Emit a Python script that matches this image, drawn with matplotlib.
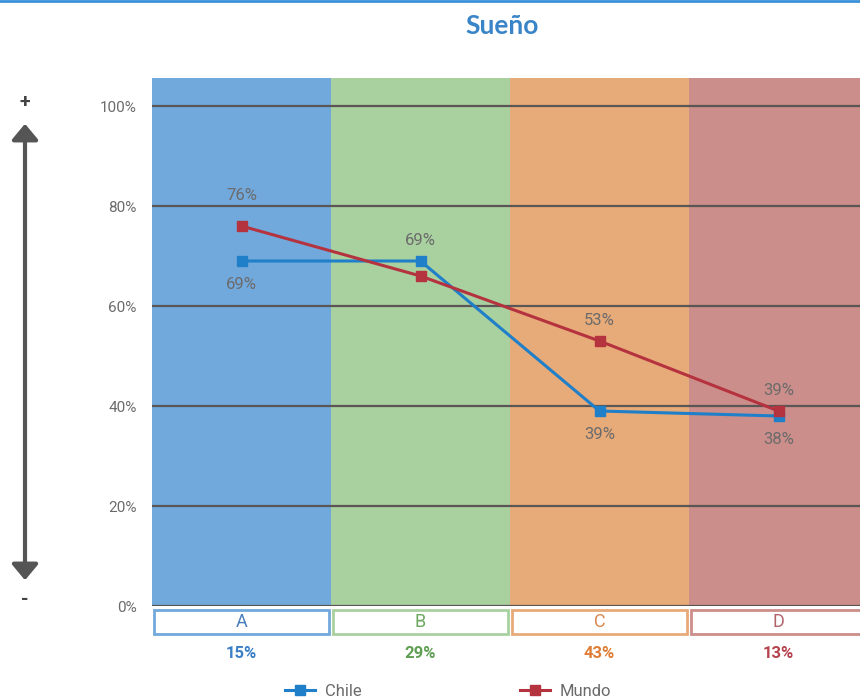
import matplotlib
matplotlib.use("Agg")
import matplotlib.pyplot as plt
from matplotlib.lines import Line2D
from matplotlib.patches import Rectangle, FancyArrowPatch
from matplotlib.transforms import blended_transform_factory

plt.rcParams['font.family'] = ['Roboto', 'DejaVu Sans']

# Data
categories = ["A", "B", "C", "D"]
shares = ["15%", "29%", "43%", "13%"]
chile = [69, 69, 39, 38]
mundo = [76, 66, 53, 39]
chile_labels = ["69%", "69%", "39%", "38%"]
mundo_labels = ["76%", None, "53%", "39%"]
yticks = [0, 20, 40, 60, 80, 100]

# Styling
band_colors = ["#72a9dc", "#a9d09f", "#e7aa79", "#cc8e8a"]
letter_colors = ["#4a80bd", "#6aa65c", "#d9894e", "#b0636b"]
share_colors = ["#3b7fc6", "#5e9f52", "#e07d35", "#b5434e"]
chile_color = "#1f7fc9"
mundo_color = "#b5323f"
grid_color = "#5b5656"
text_gray = "#6b6b6b"

W, H = 860, 700
fig = plt.figure(figsize=(W / 100, H / 100), dpi=100)

# Plot area in pixels
left_px, top_px, bottom_px = 152, 78, 606
band_w = 179
ax = fig.add_axes([left_px / W, 1 - bottom_px / H, 4 * band_w / W, (bottom_px - top_px) / H])
ymax = (bottom_px - top_px) / 5.0
ax.set_xlim(0, 4)
ax.set_ylim(0, ymax)

for i, c in enumerate(band_colors):
    ax.axvspan(i, i + 1, color=c, lw=0, zorder=0)

for t in yticks:
    ax.axhline(t, color=grid_color, lw=1.6, zorder=1)

for s in ax.spines.values():
    s.set_visible(False)
ax.set_xticks([])
ax.set_yticks(yticks)
ax.set_yticklabels([f"{t}%" for t in yticks], color=text_gray, fontsize=11)
ax.tick_params(axis='y', length=0, pad=11)

x = [i + 0.5 for i in range(len(categories))]
ax.plot(x, chile, color=chile_color, lw=2.2, marker='s', ms=7, zorder=3)
ax.plot(x, mundo, color=mundo_color, lw=2.2, marker='s', ms=7, zorder=3)

# Value labels: vertical offset in points per point (positive = above)
chile_offsets = [-17, 15, -17, -17]
mundo_offsets = [22, 0, 15, 15]
for i in range(len(categories)):
    for vals, labels, offs in ((chile, chile_labels, chile_offsets),
                               (mundo, mundo_labels, mundo_offsets)):
        if labels[i] is None:
            continue
        ax.annotate(labels[i], (x[i], vals[i]), xytext=(0, offs[i]), textcoords='offset points',
                    ha='center', va='center', color=text_gray, fontsize=12, zorder=4)

# Category boxes and shares under the plot
tr = blended_transform_factory(ax.transData, fig.transFigure)
box_top = 1 - 610 / H
box_bot = 1 - 634 / H
for i, cat in enumerate(categories):
    r = Rectangle((i + 0.012, box_bot), 0.976, box_top - box_bot, transform=tr,
                  facecolor="white", edgecolor=band_colors[i], lw=2, clip_on=False, zorder=2)
    ax.add_patch(r)
    ax.text(i + 0.5, (box_top + box_bot) / 2, cat, transform=tr, ha='center', va='center',
            color=letter_colors[i], fontsize=13, clip_on=False, zorder=5)
    ax.text(i + 0.5, 1 - 653 / H, shares[i], transform=tr, ha='center', va='center',
            color=share_colors[i], fontsize=12, fontweight='bold', clip_on=False)

# Title and top rule
fig.add_artist(Line2D([0, 1], [1 - 1 / H, 1 - 1 / H], transform=fig.transFigure,
                      color="#3a8fd9", lw=2))
fig.text(502 / W, 1 - 26 / H, "Sueño", ha='center', va='center', color="#3a85c8",
         fontsize=19, fontweight='bold', family=['Lato', 'DejaVu Sans'])

# Double-headed scale arrow with +/- marks
arrow = FancyArrowPatch((25 / W, 1 - 583 / H), (25 / W, 1 - 121 / H), transform=fig.transFigure,
                        arrowstyle='<|-|>,head_length=6,head_width=5', color="#555555",
                        lw=3, mutation_scale=1.6)
fig.add_artist(arrow)
fig.text(25 / W, 1 - 102 / H, "+", ha='center', va='center', color="#444444", fontsize=14,
         fontweight='bold')
fig.text(25 / W, 1 - 600 / H, "-", ha='center', va='center', color="#444444", fontsize=14,
         fontweight='bold')

# Legend
handles = [Line2D([], [], color=chile_color, lw=2.2, marker='s', ms=7),
           Line2D([], [], color=mundo_color, lw=2.2, marker='s', ms=7)]
fig.legend(handles, ["Chile", "Mundo"], loc='center', bbox_to_anchor=(448 / W, 1 - 691 / H),
           ncol=2, frameon=False, handlelength=1.8, columnspacing=9.5, handletextpad=0.6,
           labelcolor=text_gray, fontsize=12)

fig.savefig("out.png", dpi=100)
